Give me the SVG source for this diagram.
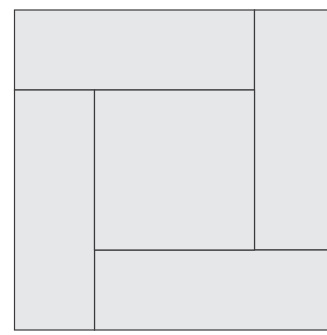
<svg xmlns="http://www.w3.org/2000/svg" width="327" height="335" viewBox="0 0 327 335">
<style>
.p{fill:#e6e7e8;stroke:#3a3a3c;stroke-width:1.2}
</style>
<rect width="327" height="335" fill="#ffffff"/>
<g id="top"><rect class="p" x="14.5" y="10" width="240" height="80"/></g>
<g id="right"><rect class="p" x="254.5" y="10" width="80" height="240"/></g>
<g id="bottom"><rect class="p" x="94.5" y="250" width="240" height="80"/></g>
<g id="left"><rect class="p" x="14.5" y="90" width="80" height="240"/></g>
<g id="center"><rect class="p" x="94.5" y="90" width="160" height="160"/></g>
</svg>
